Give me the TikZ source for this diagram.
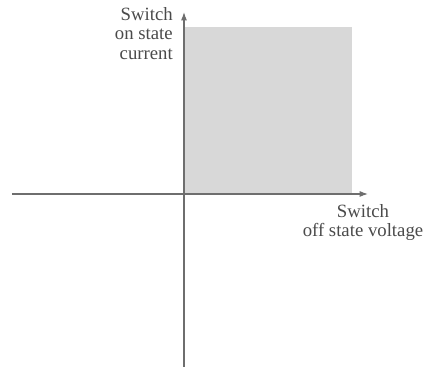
\documentclass[tikz,border=0pt]{standalone}
\usepackage{fontspec}
\setmainfont{Liberation Serif}
\usetikzlibrary{arrows.meta}
\definecolor{axisgray}{HTML}{6E6E6E}
\definecolor{textgray}{HTML}{4A4A4A}
\definecolor{shadegray}{HTML}{D8D8D8}
\tikzset{
  axis/.style={draw=axisgray,line width=1pt,-{Latex[length=0.25cm,width=0.18cm]}},
  axislabel/.style={inner sep=0pt,text=textgray}
}
\begin{document}
\begin{tikzpicture}[scale=1.0,font=\fontsize{16}{16.8}\selectfont]
\useasboundingbox (-5.52,-5.19) rectangle (7.41,5.82);
\coordinate (xmin) at (-5.16,0);
\coordinate (xmax) at (5.52,0);
\coordinate (ymin) at (0,-5.19);
\coordinate (ymax) at (0,5.46);
\fill[shadegray] (0,0) rectangle (5.04,5.01);
\draw[axis] (xmin) -- (xmax);
\draw[axis] (ymin) -- (ymax);
\node[axislabel,anchor=north,align=center] (xlabel) at (5.37,-0.3) {Switch\\off state voltage};
\node[axislabel,anchor=north east,align=right] (ylabel) at (-0.33,5.61) {Switch\\on state\\current};
\end{tikzpicture}
\end{document}
